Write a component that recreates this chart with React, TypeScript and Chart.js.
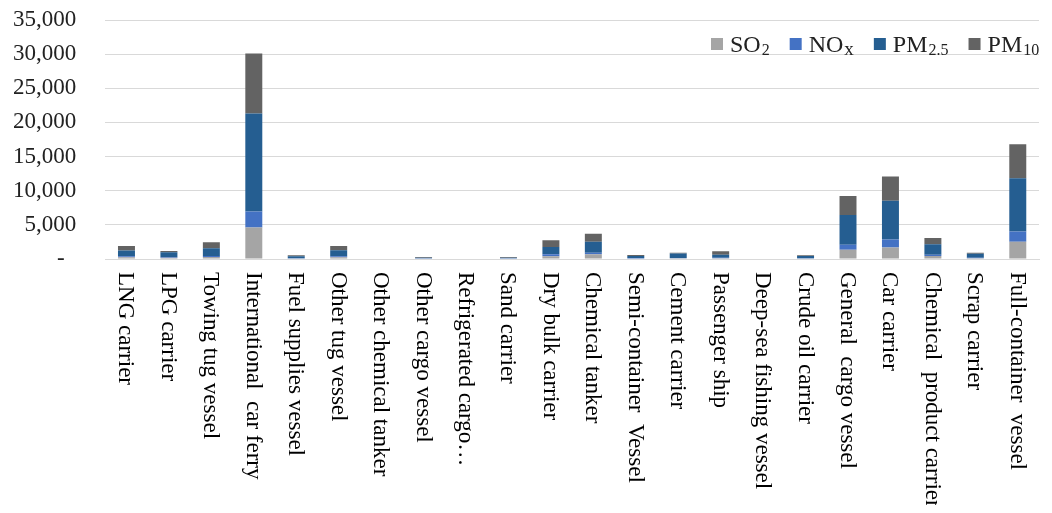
import React, { useEffect, useRef } from "react";
import { Chart, registerables } from "chart.js";

Chart.register(...registerables);

const categories = [
  "LNG carrier",
  "LPG carrier",
  "Towing tug vessel",
  "International  car ferry",
  "Fuel supplies vessel",
  "Other tug vessel",
  "Other chemical tanker",
  "Other cargo vessel",
  "Refrigerated cargo…",
  "Sand carrier",
  "Dry bulk carrier",
  "Chemical tanker",
  "Semi-container  Vessel",
  "Cement carrier",
  "Passenger ship",
  "Deep-sea fishing vessel",
  "Crude oil carrier",
  "General  cargo vessel",
  "Car carrier",
  "Chemical  product carrier",
  "Scrap carrier",
  "Full-container  vessel",
];

const so2 = [250, 180, 300, 4630, 60, 250, 0, 80, 0, 80, 400, 690, 80, 100, 120, 0, 70, 1360, 1700, 440, 100, 2530];
const nox = [150, 120, 150, 2340, 40, 150, 0, 20, 0, 20, 290, 240, 50, 60, 80, 0, 40, 730, 1170, 200, 80, 1510];
const pm25 = [860, 680, 1120, 14330, 300, 880, 0, 80, 0, 80, 1070, 1610, 300, 640, 420, 0, 330, 4340, 5650, 1510, 600, 7800];
const pm10 = [630, 180, 880, 8800, 140, 630, 0, 120, 0, 120, 980, 1170, 150, 120, 500, 0, 100, 2780, 3560, 930, 140, 4950];

const seriesNames = ["SO\u2082", "NO\u2093", "PM\u2082.\u2085", "PM\u2081\u2080"];
const seriesColors = ["#A5A5A5", "#4472C4", "#255E91", "#636363"];
const yTicks = { min: 0, max: 35000, step: 5000 };

const FONT = '"Liberation Serif", "Times New Roman", serif';

const SUB_MAP: Record<string, string> = {
  "\u2080": "0", "\u2081": "1", "\u2082": "2", "\u2085": "5", "\u2093": "x",
};

const xLabelPlugin = {
  id: "xLabelsDown",
  afterDraw(chart: any) {
    const { ctx, chartArea, scales } = chart;
    const xs = scales.x;
    ctx.save();
    ctx.font = `23px ${FONT}`;
    ctx.fillStyle = "#000";
    ctx.textAlign = "left";
    ctx.textBaseline = "middle";
    categories.forEach((label, i) => {
      const x = xs.getPixelForTick(i);
      ctx.save();
      ctx.translate(x - 1, chartArea.bottom + 13);
      ctx.rotate(Math.PI / 2);
      ctx.fillText(label, 0, 0);
      ctx.restore();
    });
    ctx.restore();
  },
};

const legendPlugin = {
  id: "topRightLegend",
  afterDraw(chart: any) {
    const { ctx, chartArea } = chart;
    ctx.save();
    ctx.textBaseline = "alphabetic";
    ctx.textAlign = "left";
    let x = chartArea.right - 328;
    const yc = chartArea.top + 24;
    const baseline = yc + 8;
    seriesNames.forEach((name, i) => {
      ctx.fillStyle = seriesColors[i];
      ctx.fillRect(x, yc - 6, 12, 12);
      x += 19;
      ctx.fillStyle = "#222";
      // split into base text and subscript part
      let base = "";
      let sub = "";
      for (const ch of name) {
        if (SUB_MAP[ch]) sub += SUB_MAP[ch];
        else if (sub && ch === ".") sub += ".";
        else base += ch;
      }
      ctx.font = `24px ${FONT}`;
      ctx.fillText(base, x, baseline);
      x += ctx.measureText(base).width;
      ctx.font = `${sub === "x" ? 19 : 16}px ${FONT}`;
      ctx.fillText(sub, x + 1, baseline + 3);
      x += ctx.measureText(sub).width + 1;
      x += 20;
    });
    ctx.restore();
  },
};

export default function App() {
  const ref = useRef<HTMLCanvasElement | null>(null);
  useEffect(() => {
    if (!ref.current) return;
    const data = [so2, nox, pm25, pm10];
    const chart = new Chart(ref.current, {
      type: "bar",
      data: {
        labels: categories,
        datasets: data.map((d, i) => ({
          label: seriesNames[i],
          data: d,
          backgroundColor: seriesColors[i],
          borderWidth: 0,
          categoryPercentage: 0.4,
          barPercentage: 1,
        })),
      },
      options: {
        animation: false,
        responsive: true,
        maintainAspectRatio: false,
        layout: { padding: { left: -24, right: 5, top: 0, bottom: 238 } },
        plugins: {
          tooltip: { enabled: false },
          legend: { display: false },
        },
        scales: {
          x: {
            stacked: true,
            grid: { display: false },
            border: { display: true, color: "#d9d9d9" },
            ticks: { display: false },
          },
          y: {
            stacked: true,
            min: yTicks.min,
            max: yTicks.max,
            border: { display: false },
            grid: { color: "#d9d9d9", drawTicks: false },
            afterFit: (scale: any) => {
              scale.paddingTop = 12;
              scale.paddingBottom = 12;
            },
            ticks: {
              stepSize: yTicks.step,
              autoSkip: false,
              padding: 29,
              color: "#222",
              font: { family: FONT, size: 23 },
              callback: (v: any) => (Number(v) === 0 ? "-  " : Number(v).toLocaleString("en-US")),
            },
          },
        },
      },
      plugins: [xLabelPlugin, legendPlugin],
    });
    return () => chart.destroy();
  }, []);
  return (
    <div style={{ width: 1036, height: 497, position: "relative" }}>
      <canvas ref={ref} />
    </div>
  );
}
